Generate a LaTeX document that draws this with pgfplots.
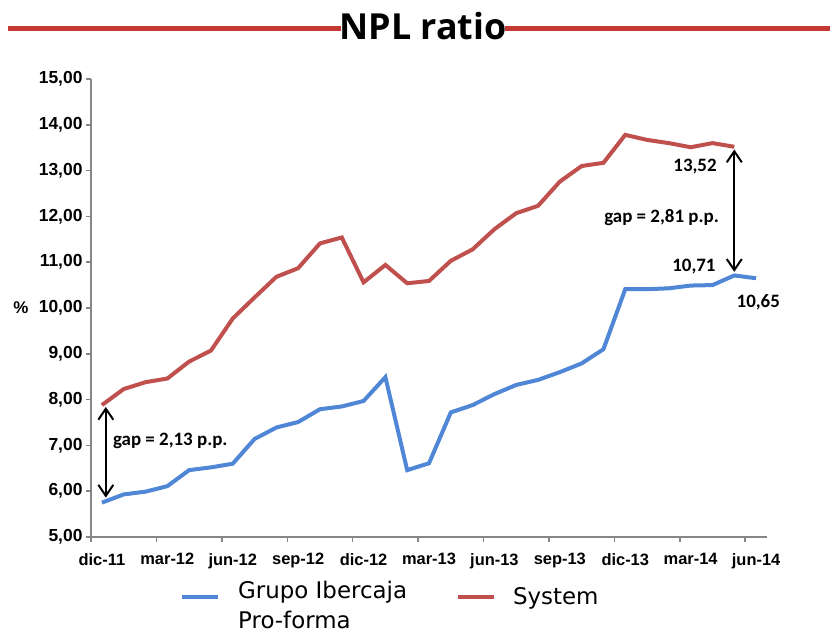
\documentclass[border=0pt]{standalone}
\usepackage{fontspec}
\usepackage{pgfplots}
\pgfplotsset{compat=1.18}
\usetikzlibrary{arrows.meta}
\setmainfont{Liberation Sans}
\newfontfamily\carlito{Carlito}
\newfontfamily\dejavu{DejaVu Sans}
\newfontfamily\opensans{Open Sans}

\definecolor{ibblue}{HTML}{4F87D6}
\definecolor{sysred}{HTML}{C0504D}
\definecolor{titlered}{HTML}{C43A32}
\definecolor{axgray}{HTML}{868686}

% NPL ratio, month index 0 = dic-11
\pgfplotstableread{
m  v
0  7.88
1  8.23
2  8.38
3  8.46
4  8.83
5  9.07
6  9.77
7  10.23
8  10.68
9  10.87
10 11.41
11 11.54
12 10.56
13 10.94
14 10.54
15 10.59
16 11.03
17 11.28
18 11.72
19 12.07
20 12.23
21 12.76
22 13.10
23 13.17
24 13.78
25 13.67
26 13.60
27 13.51
28 13.60
29 13.52
}\systemdata

\pgfplotstableread{
m  v
0  5.75
1  5.93
2  5.99
3  6.11
4  6.46
5  6.52
6  6.60
7  7.14
8  7.39
9  7.51
10 7.79
11 7.85
12 7.97
13 8.49
14 6.46
15 6.61
16 7.72
17 7.88
18 8.12
19 8.32
20 8.43
21 8.60
22 8.79
23 9.10
24 10.41
25 10.41
26 10.43
27 10.49
28 10.50
29 10.71
30 10.65
}\ibercajadata

\tikzset{gaparrow/.style={{Straight Barb[length=11bp,width=15bp]}-{Straight Barb[length=11bp,width=15bp]}, line width=2bp}}
\tikzset{annot/.style={font=\carlito\bfseries\fontsize{19}{22}\selectfont, inner sep=0pt}}

\begin{document}
\begin{tikzpicture}
\useasboundingbox (0,0) rectangle (830bp,631bp);

% title with side rules
\draw[titlered, line width=5bp] (8bp,602bp) -- (341bp,602bp);
\draw[titlered, line width=5bp] (505bp,602bp) -- (830bp,602bp);
\node[font=\opensans\bfseries\fontsize{36}{40}\selectfont, anchor=base] at (423bp,591bp) {NPL ratio};

\begin{axis}[
    at={(91bp,94bp)}, anchor=south west,
    scale only axis,
    width=676bp, height=458bp,
    clip mode=individual,
    xmin=-0.5, xmax=30.5,
    ymin=5, ymax=15,
    axis lines=left,
    axis line style={-, draw=axgray, line width=1.5bp},
    tick style={draw=axgray, line width=1.5bp},
    tick align=outside,
    major tick length=5bp,
    xtick={-0.5,2.5,5.5,8.5,11.5,14.5,17.5,20.5,23.5,26.5,29.5},
    xticklabels={},
    extra x ticks={0,3,6,9,12,15,18,21,24,27,30},
    extra x tick labels={dic-11,mar-12,jun-12,sep-12,dic-12,mar-13,jun-13,sep-13,dic-13,mar-14,jun-14},
    extra x tick style={major tick length=0pt},
    xticklabel style={font=\fontsize{16.5}{19}\selectfont\bfseries, yshift=-13bp},
    ytick={5,6,...,15},
    yticklabel style={font=\fontsize{17.5}{19}\selectfont\bfseries,
      /pgf/number format/.cd, fixed, fixed zerofill, precision=2, use comma,
      assume math mode=true},
    ylabel={\%},
    ylabel style={at={(axis description cs:-0.1036,0.5)}, rotate=-90, anchor=center,
      font=\fontsize{17}{19}\selectfont\bfseries},
    legend columns=2,
    legend cell align=left,
    legend style={at={(0.1316,-0.1288)}, anchor=west, draw=none, fill=none,
      inner sep=0pt, font=\dejavu\fontsize{23}{30}\selectfont,
      nodes={inner sep=0pt},
      /tikz/column 1/.style={column sep=18bp},
      /tikz/column 2/.style={column sep=49bp},
      /tikz/column 3/.style={column sep=17bp}},
    legend image code/.code={\draw[#1, line width=4bp] (0bp,7.5bp) -- (36bp,7.5bp);},
  ]
  \addplot[ibblue, line width=4bp] table[x=m, y=v] {\ibercajadata};
  \addlegendentry[yshift=9bp]{\begin{tabular}{@{}l@{}}Grupo Ibercaja\\Pro-forma\end{tabular}}
  \addplot[sysred, line width=4bp] table[x=m, y=v] {\systemdata};
  \addlegendentry[yshift=8bp]{System}

  % gap arrows and value labels
  \draw[gaparrow] (axis cs:0.18,7.84) -- (axis cs:0.18,5.86);
  \draw[gaparrow] (axis cs:29,13.46) -- (axis cs:29,10.79);
  \node[annot, anchor=base west] at (axis cs:0.5,6.99) {gap = 2,13 p.p.};
  \node[annot, anchor=base east] at (axis cs:28.3,11.86) {gap = 2,81 p.p.};
  \node[annot, anchor=base] at (axis cs:27.2,12.97) {13,52};
  \node[annot, anchor=base] at (axis cs:27.15,10.79) {10,71};
  \node[annot, anchor=base] at (axis cs:30.1,10.02) {10,65};
\end{axis}
\end{tikzpicture}
\end{document}
